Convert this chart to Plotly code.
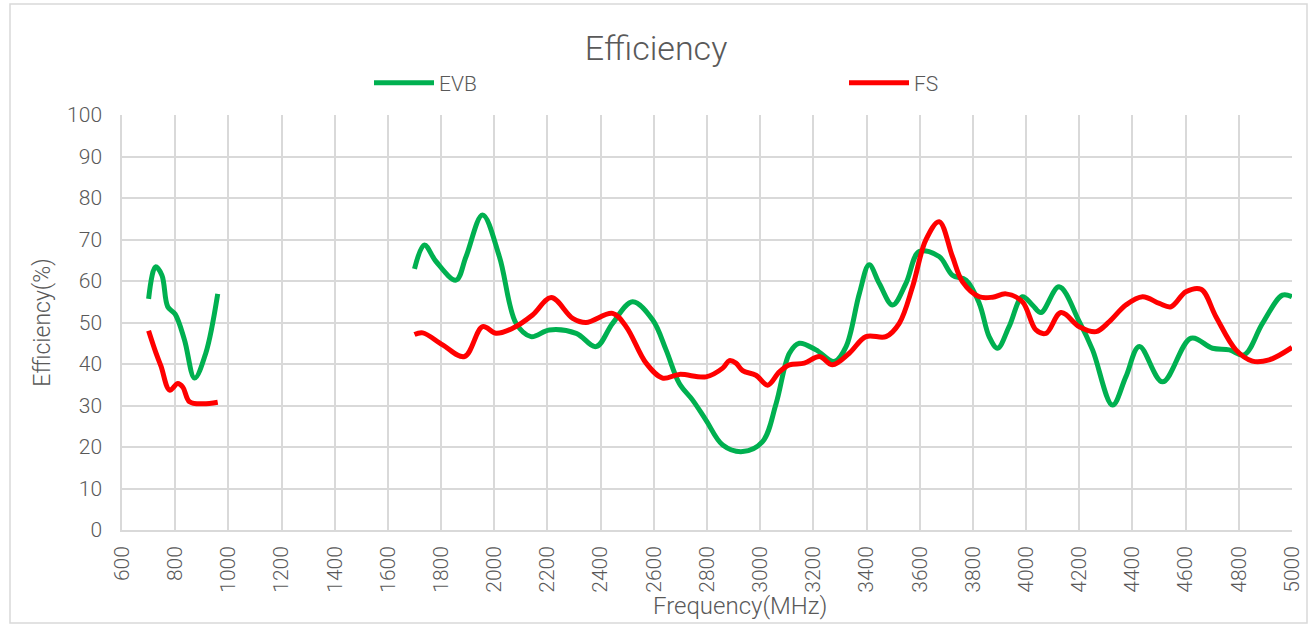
import plotly.graph_objects as go

# ---- data ----
evb_low_freq = [700, 726, 750, 772, 800, 835, 873, 915, 960]
evb_low_eff = [55.7, 63.4, 61.4, 53.8, 52.0, 45.8, 36.6, 42.6, 56.9]
evb_high_freq = [1700, 1737, 1781, 1856, 1894, 1956, 2019, 2082, 2138, 2207, 2308, 2383,
                 2445, 2520, 2596, 2646, 2696, 2746, 2796, 2859, 2934, 3009, 3060, 3110,
                 3147, 3210, 3279, 3323, 3373, 3410, 3448, 3498, 3548, 3598, 3673, 3723,
                 3774, 3824, 3861, 3893, 3936, 3986, 4024, 4056, 4124, 4200, 4250, 4325,
                 4375, 4426, 4513, 4620, 4701, 4764, 4820, 4889, 4964, 5000]
evb_high_eff = [62.9, 68.7, 64.7, 60.2, 65.9, 75.9, 65.9, 49.8, 46.6, 48.2, 47.4, 44.2,
                49.8, 55.0, 50.6, 43.4, 35.3, 31.3, 26.5, 20.5, 18.9, 21.3, 30.5, 42.6,
                45.0, 43.4, 40.6, 44.2, 57.0, 63.9, 59.4, 54.2, 59.4, 67.1, 65.9, 61.4,
                60.2, 54.6, 46.6, 43.8, 49.0, 56.2, 54.2, 52.4, 58.6, 50.2, 43.4, 30.1,
                36.9, 44.2, 35.7, 46.2, 43.8, 43.4, 42.2, 49.8, 56.6, 56.2]

fs_low_freq = [700, 728, 747, 779, 810, 829, 854, 904, 960]
fs_low_eff = [48.0, 42.6, 39.4, 33.7, 35.3, 34.4, 30.9, 30.4, 30.8]
fs_high_freq = [1700, 1731, 1806, 1888, 1956, 2007, 2069, 2144, 2214, 2295, 2345, 2445,
                2496, 2571, 2633, 2696, 2796, 2859, 2884, 2909, 2934, 2984, 3028, 3072,
                3110, 3166, 3223, 3272, 3335, 3398, 3473, 3523, 3573, 3623, 3673, 3723,
                3761, 3824, 3874, 3924, 3986, 4037, 4075, 4131, 4200, 4263, 4313, 4375,
                4438, 4501, 4545, 4601, 4658, 4714, 4789, 4851, 4914, 5000]
fs_high_eff = [47.1, 47.5, 44.6, 41.8, 49.0, 47.4, 48.6, 51.8, 56.0, 51.0, 50.0, 52.2,
               49.0, 40.2, 36.6, 37.5, 36.9, 39.0, 40.8, 40.2, 38.4, 37.3, 34.9, 38.1,
               39.8, 40.2, 41.8, 39.8, 42.6, 46.6, 46.6, 49.8, 58.6, 69.9, 74.3, 65.9,
               59.8, 56.2, 56.1, 56.9, 55.0, 48.2, 47.4, 52.4, 49.0, 47.8, 50.2, 54.2,
               56.2, 54.6, 53.8, 57.4, 58.0, 51.4, 43.4, 40.7, 41.0, 44.0]

series_names = ["EVB", "FS"]
series_colors = ["#00B050", "#FF0000"]

x_ticks = list(range(600, 5001, 200))
y_ticks = list(range(0, 101, 10))

FONT = "Roboto, 'Noto Sans', 'Liberation Sans', sans-serif"
TXT = "#595959"
GRID = "#d9d9d9"
WEIGHT = 300

ITEMW = 60
PITCH = 475
legend_widths = [PITCH - (ITEMW + 10) - 5, 40]

fig = go.Figure()
for i, (name, color, fl, el, fh, eh) in enumerate([
    (series_names[0], series_colors[0], evb_low_freq, evb_low_eff, evb_high_freq, evb_high_eff),
    (series_names[1], series_colors[1], fs_low_freq, fs_low_eff, fs_high_freq, fs_high_eff),
]):
    fig.add_trace(go.Scatter(
        x=fl + [None] + fh,
        y=el + [None] + eh,
        mode="lines",
        name=name,
        connectgaps=False,
        legendwidth=legend_widths[i],
        line=dict(color=color, width=5, shape="spline", smoothing=1.0),
    ))

W, H = 1312, 625
L, R, T, B = 122, 20, 115, 95
pw, ph = W - L - R, H - T - B

def px2paper_x(px):
    return (px - L) / pw

def px2paper_y(py):
    return (H - B - py) / ph

def f(size):
    return dict(size=size, color=TXT, family=FONT, weight=WEIGHT)

fig.update_layout(
    width=W, height=H,
    margin=dict(l=L, r=R, t=T, b=B, pad=0),
    paper_bgcolor="white",
    plot_bgcolor="white",
    font=f(21),
    title=dict(text="Efficiency", x=0.5, xanchor="center", y=1 - 48 / H, yanchor="middle",
               font=f(34)),
    showlegend=True,
    legend=dict(
        orientation="h",
        x=px2paper_x(369), xanchor="left",
        y=px2paper_y(83), yanchor="middle",
        itemwidth=ITEMW,
        font=f(21),
        bgcolor="rgba(0,0,0,0)",
    ),
    xaxis=dict(
        range=[600, 5000],
        tickmode="array", tickvals=x_ticks, ticktext=[str(v) for v in x_ticks],
        tickangle=-90,
        showgrid=True, gridcolor=GRID, gridwidth=1.5,
        showline=True, linecolor=GRID, linewidth=1.5,
        zeroline=False, automargin=False,
        ticks="", ticklabelstandoff=6,
        tickfont=f(21),
    ),
    yaxis=dict(
        range=[0, 100],
        tickmode="array", tickvals=y_ticks,
        showgrid=True, gridcolor=GRID, gridwidth=1.5,
        showline=True, linecolor=GRID, linewidth=1.5,
        zeroline=False, automargin=False,
        ticks="", ticklabelstandoff=14,
        tickfont=f(21),
        title=dict(text="Efficiency(%)", font=f(23), standoff=10),
    ),
    annotations=[dict(
        text="Frequency(MHz)", xref="paper", yref="paper",
        x=px2paper_x(740), y=px2paper_y(606), xanchor="center", yanchor="middle",
        showarrow=False, font=f(24),
    )],
    shapes=[dict(
        type="rect", xref="paper", yref="paper",
        x0=px2paper_x(10), x1=px2paper_x(1307),
        y0=px2paper_y(623), y1=px2paper_y(4),
        line=dict(color=GRID, width=1.5), fillcolor="rgba(0,0,0,0)", layer="below",
    )],
)

fig.write_html(
    "out.html",
    config={"displayModeBar": False},
    post_script="document.body.style.margin='0';document.body.style.overflow='hidden';",
)
